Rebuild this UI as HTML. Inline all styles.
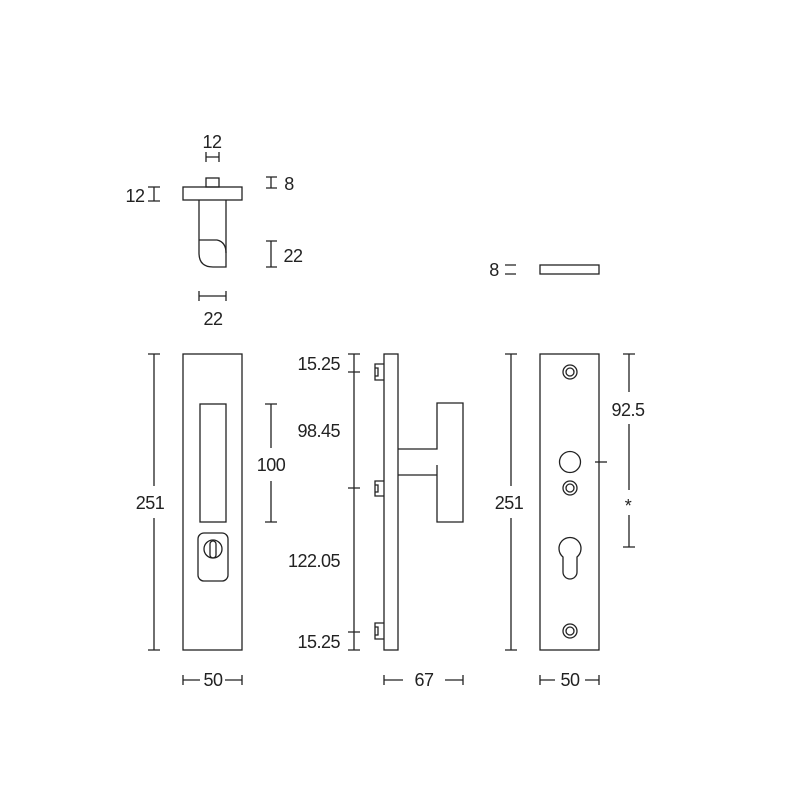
<!DOCTYPE html>
<html><head><meta charset="utf-8"><style>
html,body{margin:0;padding:0;background:#fff}
svg{display:block}
text{font-family:"Liberation Sans",sans-serif;font-size:18px;fill:#222;letter-spacing:-0.5px}
</style></head><body>
<svg width="800" height="800" viewBox="0 0 800 800" xmlns="http://www.w3.org/2000/svg">
<g fill="none" stroke="#222" stroke-width="1.3">
<!-- top view -->
<rect x="206" y="178" width="13" height="9"/>
<rect x="183" y="187" width="59" height="13"/>
<path d="M199 200 V253 Q199 267 213 267 H226 V200"/>
<path d="M199 240 H217 Q226 242 226 253"/>
<!-- dims top -->
<path d="M206 157 H219 M206 152 V162 M219 152 V162"/>
<path d="M154 187 V201 M148 187 H160 M148 201 H160"/>
<path d="M271 177 V188 M266 177 H277 M266 188 H277"/>
<path d="M271 241 V267 M266 241 H277 M266 267 H277"/>
<path d="M199 296 H226 M199 291 V301 M226 291 V301"/>
<!-- small bar -->
<rect x="540" y="265" width="59" height="9"/>
<path d="M505 265 H516 M505 274 H516"/>
<!-- front plate 1 -->
<rect x="183" y="354" width="59" height="296"/>
<rect x="200" y="404" width="26" height="118"/>
<rect x="198" y="533" width="30" height="48" rx="6"/>
<circle cx="213" cy="549" r="9"/>
<rect x="210" y="541" width="6" height="17" rx="3"/>
<path d="M154 354 V486 M154 518 V650 M148 354 H160 M148 650 H160"/>
<path d="M271 404 V448 M271 481 V522 M265 404 H277 M265 522 H277"/>
<path d="M183 680 H200 M225 680 H242 M183 675 V685 M242 675 V685"/>
<!-- side view -->
<rect x="384" y="354" width="14" height="296"/>
<path d="M384 364 H375 V380 H384 M375 368 H378 V376 H375"/>
<path d="M384 481 H375 V496 H384 M375 485 H378 V492 H375"/>
<path d="M384 623 H375 V639 H384 M375 627 H378 V635 H375"/>
<path d="M398 449 H437 V403 H463 V522 H437 V465 M398 475 H437"/>
<path d="M354 354 V650 M348 354 H360 M348 372 H360 M348 488 H360 M348 632 H360 M348 650 H360"/>
<path d="M384 680 H403 M445 680 H463 M384 675 V685 M463 675 V685"/>
<!-- right plate -->
<rect x="540" y="354" width="59" height="296"/>
<circle cx="570" cy="372" r="7"/><circle cx="570" cy="372" r="4"/>
<circle cx="570" cy="488" r="7"/><circle cx="570" cy="488" r="4"/>
<circle cx="570" cy="631" r="7"/><circle cx="570" cy="631" r="4"/>
<circle cx="570" cy="462" r="10.5"/>
<path d="M563 557 A11 11 0 1 1 577 557 V572 A7 7 0 0 1 563 572 Z"/>
<path d="M511 354 V486 M511 518 V650 M505 354 H517 M505 650 H517"/>
<path d="M595 462 H607"/>
<path d="M629 354 V392 M629 424 V490 M629 515 V547 M623 354 H635 M623 547 H635"/>
<path d="M540 680 H555 M585 680 H599 M540 675 V685 M599 675 V685"/>
</g>
<text x="212" y="148" text-anchor="middle">12</text>
<text x="135" y="202" text-anchor="middle">12</text>
<text x="289" y="190" text-anchor="middle">8</text>
<text x="293" y="262" text-anchor="middle">22</text>
<text x="213" y="325" text-anchor="middle">22</text>
<text x="494" y="276" text-anchor="middle">8</text>
<text x="150" y="509" text-anchor="middle">251</text>
<text x="271" y="471" text-anchor="middle">100</text>
<text x="213" y="686" text-anchor="middle">50</text>
<text x="340" y="370" text-anchor="end">15.25</text>
<text x="340" y="437" text-anchor="end">98.45</text>
<text x="340" y="567" text-anchor="end">122.05</text>
<text x="340" y="648" text-anchor="end">15.25</text>
<text x="424" y="686" text-anchor="middle">67</text>
<text x="509" y="509" text-anchor="middle">251</text>
<text x="628" y="416" text-anchor="middle">92.5</text>
<text x="628" y="512" text-anchor="middle">*</text>
<text x="570" y="686" text-anchor="middle">50</text>
</svg>
</body></html>
